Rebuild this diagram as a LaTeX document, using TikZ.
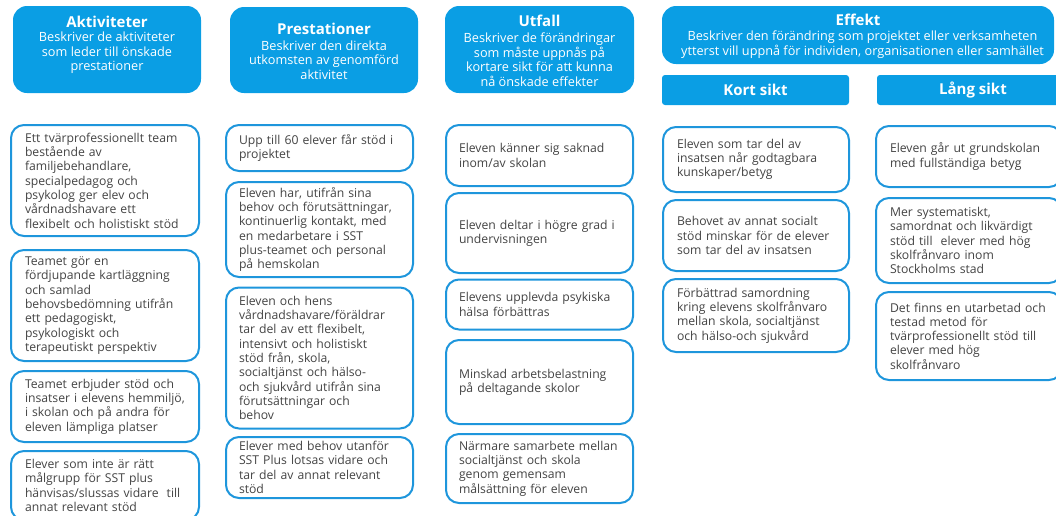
\documentclass[tikz,border=0pt]{standalone}
\usepackage{fontspec}
\setmainfont{Open Sans}
\definecolor{hblue}{HTML}{0A9EE4}
\definecolor{bblue}{HTML}{1E96DC}
\definecolor{tgray}{HTML}{444444}
\tikzset{
  hbox/.style={fill=hblue, draw=none, rounded corners=14pt, inner sep=0pt},
  sbox/.style={fill=hblue, draw=none, rounded corners=3pt, inner sep=0pt},
  htitle/.style={text=white, font=\fontsize{15}{18}\selectfont\bfseries, inner sep=0pt},
  hdesc/.style={text=white, font=\fontsize{12.7}{14.6}\selectfont, align=center, inner sep=0pt},
  cbox/.style={draw=bblue, line width=2pt, rounded corners=13pt, fill=white, text=tgray,
    align=left, inner xsep=14pt, inner ysep=0pt, font=\fontsize{12.2}{14.3}\selectfont},
}
\begin{document}
\begin{tikzpicture}[x=1pt,y=-1pt]
\useasboundingbox (0,0) rectangle (1056,515);
\clip (0,0) rectangle (1056,515);
% headers
\node[hbox, minimum width=188pt, minimum height=87pt] (hA) at (107,49.5) {};
\node[htitle] (hAt) at (107,22) {Aktiviteter};
\node[hdesc] (hAd) at (107,53) {Beskriver de aktiviteter\\som leder till önskade\\prestationer};
\node[hbox, minimum width=188pt, minimum height=86pt] (hP) at (324,50) {};
\node[htitle] (hPt) at (324,29) {Prestationer};
\node[hdesc] (hPd) at (324,60) {Beskriver den direkta\\utkomsten av genomförd\\aktivitet};
\node[hbox, minimum width=189pt, minimum height=87pt] (hU) at (539.5,49.5) {};
\node[htitle] (hUt) at (539.5,21) {Utfall};
\node[hdesc] (hUd) at (539.5,59.5) {Beskriver de förändringar\\som måste uppnås på\\kortare sikt för att kunna\\nå önskade effekter};
\node[hbox, minimum width=392pt, minimum height=58pt] (hE) at (858,35) {};
\node[htitle] (hEt) at (858,20) {Effekt};
\node[hdesc] (hEd) at (862.5,44.5) {Beskriver den förändring som projektet eller verksamheten\\ytterst vill uppnå för individen, organisationen eller samhället};
\node[sbox, minimum width=187pt, minimum height=30pt] (hK) at (755.5,90) {};
\node[htitle] (hKt) at (755.5,90) {Kort sikt};
\node[sbox, minimum width=190pt, minimum height=30pt] (hL) at (972,90) {};
\node[htitle] (hLt) at (973,90) {Lång sikt};
% Aktiviteter
\node[cbox, inner xsep=14pt, text width=160pt, minimum height=111pt] (a1) at (105,180.5) {Ett tvärprofessionellt team\\bestående av\\familjebehandlare,\\specialpedagog och\\psykolog ger elev och\\vårdnadshavare ett\\flexibelt och holistiskt stöd};
\node[cbox, inner xsep=14pt, text width=160pt, minimum height=111pt] (a2) at (105,305.5) {Teamet gör en\\fördjupande kartläggning\\och samlad\\behovsbedömning utifrån\\ett pedagogiskt,\\psykologiskt och\\terapeutiskt perspektiv};
\node[cbox, inner xsep=14pt, text width=160pt, minimum height=71pt] (a3) at (105,406.5) {Teamet erbjuder stöd och\\insatser i elevens hemmiljö,\\i skolan och på andra för\\eleven lämpliga platser};
\node[cbox, inner xsep=14pt, text width=160pt, minimum height=69pt] (a4) at (105,485.5) {Elever som inte är rätt\\målgrupp för SST plus\\hänvisas/slussas vidare\ \ till\\annat relevant stöd};
% Prestationer
\node[cbox, inner xsep=13pt, text width=161pt, minimum height=46pt] (p1) at (319.5,148) {Upp till 60 elever får stöd i\\projektet};
\node[cbox, inner xsep=13pt, text width=161pt, minimum height=95pt] (p2) at (319.5,229.5) {Eleven har, utifrån sina\\behov och förutsättningar,\\kontinuerlig kontakt, med\\en medarbetare i SST\\plus-teamet och personal\\på hemskolan};
\node[cbox, inner xsep=13pt, text width=161pt, minimum height=141pt] (p3) at (319.5,358) {Eleven och hens\\vårdnadshavare/föräldrar\\tar del av ett flexibelt,\\intensivt och holistiskt\\stöd från, skola,\\socialtjänst och hälso-\\och sjukvård utifrån sina\\förutsättningar och\\behov};
\node[cbox, inner xsep=13pt, text width=161pt, minimum height=61pt] (p4) at (319.5,467.5) {Elever med behov utanför\\SST Plus lotsas vidare och\\tar del av annat relevant\\stöd};
% Utfall
\node[cbox, inner xsep=13pt, text width=161pt, minimum height=61pt] (u1) at (539.5,155.5) {Eleven känner sig saknad\\inom/av skolan};
\node[cbox, inner xsep=13pt, text width=161pt, minimum height=80pt] (u2) at (539.5,233) {Eleven deltar i högre grad i\\undervisningen};
\node[cbox, inner xsep=13pt, text width=161pt, minimum height=50pt] (u3) at (539.5,304.5) {Elevens upplevda psykiska\\hälsa förbättras};
\node[cbox, inner xsep=13pt, text width=161pt, minimum height=84pt] (u4) at (539.5,382) {Minskad arbetsbelastning\\på deltagande skolor};
\node[cbox, inner xsep=13pt, text width=161pt, minimum height=69pt] (u5) at (539.5,468.5) {Närmare samarbete mellan\\socialtjänst och skola\\genom gemensam\\målsättning för eleven};
% Kort sikt
\node[cbox, inner xsep=14pt, text width=158pt, minimum height=65pt] (k1) at (756,159.5) {Eleven som tar del av\\insatsen når godtagbara\\kunskaper/betyg};
\node[cbox, inner xsep=14pt, text width=158pt, minimum height=71pt] (k2) at (756,235.5) {Behovet av annat socialt\\stöd minskar för de elever\\som tar del av insatsen};
\node[cbox, inner xsep=14pt, text width=158pt, minimum height=73pt] (k3) at (756,315.5) {Förbättrad samordning\\kring elevens skolfrånvaro\\mellan skola, socialtjänst\\och hälso-och sjukvård};
% Lång sikt
\node[cbox, inner xsep=14pt, text width=158pt, minimum height=61pt] (l1) at (969,156.5) {Eleven går ut grundskolan\\med fullständiga betyg};
\node[cbox, inner xsep=14pt, text width=158pt, minimum height=85pt] (l2) at (969,240.5) {Mer systematiskt,\\samordnat och likvärdigt\\stöd till\ \ elever med hög\\skolfrånvaro inom\\Stockholms stad};
\node[cbox, inner xsep=14pt, text width=158pt, minimum height=88pt] (l3) at (969,336) {Det finns en utarbetad och\\testad metod för\\tvärprofessionellt stöd till\\elever med hög\\skolfrånvaro};
\end{tikzpicture}
\end{document}
